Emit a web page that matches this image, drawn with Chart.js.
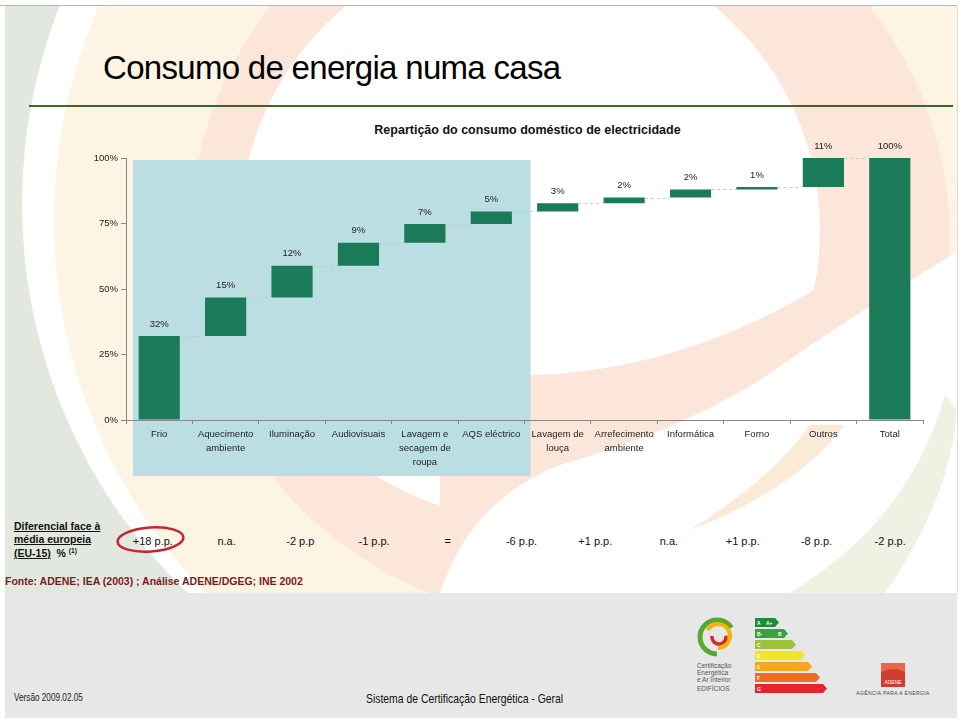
<!DOCTYPE html>
<html>
<head>
<meta charset="utf-8">
<title>Consumo de energia numa casa</title>
<script src="https://cdn.jsdelivr.net/npm/chart.js@4.4.0/dist/chart.umd.min.js"></script>
<style>
  body { margin:0; width:960px; height:721px; position:relative; overflow:hidden; background:#fff;
         font-family: Arial, "Liberation Sans", sans-serif; color:#000; }
  .abs { position:absolute; white-space:nowrap; }
  #bg { position:absolute; left:0; top:0; }
  #title { left:103px; top:51px; font-size:33px; line-height:33px; letter-spacing:-0.7px; }
  #rule { left:29px; top:105px; width:924px; height:2px; background:#3b6a1f; }
  #topline { left:0; top:5px; width:957px; height:1px; background:#b3b3b3; }
  #charttitle { left:300px; width:455px; top:123px; text-align:center; font-weight:bold; font-size:12.5px; line-height:14px; color:#111; }
  #chartbox { left:60px; top:140px; width:880px; height:350px; }
  #difflabel { left:14px; top:520px; font-weight:bold; font-size:10.5px; line-height:12.5px; color:#111; }
  #difflabel u { text-decoration-thickness:1px; }
  #difflabel sup { font-size:6.5px; vertical-align:4px; }
  #diffrow { left:116px; top:535px; width:811px; display:flex; font-size:11px; line-height:13px; color:#111; }
  #diffrow span { flex:1; text-align:center; }
  #fonte { left:5px; top:575px; font-weight:bold; font-size:10.5px; line-height:12px; color:#7b1c1c; }
  #versao { left:14px; top:692px; font-size:10px; line-height:12px; color:#222; transform:scaleX(0.82); transform-origin:left; }
  #sistema { left:366px; top:692px; font-size:13px; line-height:14px; color:#111; transform:scaleX(0.8); transform-origin:left; }
</style>
</head>
<body>

<svg id="bg" width="960" height="721">
  <defs>
    <clipPath id="slide"><rect x="5" y="6" width="952" height="587"/></clipPath>
    <clipPath id="disco"><circle cx="570" cy="240" r="380"/></clipPath>
  </defs>
  <g clip-path="url(#slide)">
    <rect x="5" y="6" width="952" height="587" fill="#e2e8df"/>
    <circle cx="562" cy="204" r="540" fill="#ffffff"/>
    <circle cx="587" cy="220" r="533" fill="#fdf4e3"/>
    <circle cx="570" cy="240" r="380" fill="#fbe6d9"/>
    <circle cx="530" cy="230" r="290" fill="#ffffff"/>
    <path d="M440,372 Q650,395 830,280 L960,280 L960,700 L440,700 Z" fill="#fbe6d9" clip-path="url(#disco)"/>
    <path d="M440,593 Q470,500 560,465 Q680,430 760,380 Q860,310 960,250 L960,593 Z" fill="#ffffff"/>
    <path d="M810,425 Q770,480 690,530 Q795,490 845,425 Z" fill="#fcead9"/>
    <path d="M945,395 Q910,520 790,593 L885,593 Q950,500 957,410 Z" fill="#eef2e3"/>
  </g>
  <rect x="957" y="6" width="1" height="587" fill="#dddddd"/>
  <rect x="5" y="593" width="952" height="125" fill="#e7e7e7"/>
  <ellipse cx="150.5" cy="539.5" rx="33" ry="12" fill="none" stroke="#c4262b" stroke-width="2.5" transform="rotate(-4 150.5 539.5)"/>

  <!-- certificação logo -->
  <circle cx="717" cy="637" r="17" fill="none" stroke="#5aa832" stroke-width="5" stroke-dasharray="70 37" transform="rotate(90 717 637)"/>
  <circle cx="718" cy="636" r="12" fill="none" stroke="#f5b400" stroke-width="4" stroke-dasharray="50 26" transform="rotate(-150 718 636)"/>
  <circle cx="719" cy="637" r="7" fill="none" stroke="#d42a2d" stroke-width="3.5" stroke-dasharray="24 20" transform="rotate(-10 719 637)"/>
  <text x="697" y="668" font-size="6.5" fill="#555">Certificação</text>
  <text x="697" y="675" font-size="6.5" fill="#555">Energética</text>
  <text x="697" y="682" font-size="6.5" fill="#555">e Ar Interior</text>
  <text x="697" y="691" font-size="6.5" fill="#555">EDIFÍCIOS</text>

  <!-- escala energética -->
  <polygon points="755,618 775,618 779,622.5 775,627 755,627" fill="#1e8a3c"/>
  <polygon points="755,629 784,629 788,633.5 784,638 755,638" fill="#3aa040"/>
  <polygon points="755,640 792,640 796,644.5 792,649 755,649" fill="#9dc23a"/>
  <polygon points="755,651 801,651 805,655.5 801,660 755,660" fill="#f2e528"/>
  <polygon points="755,662 808,662 812,666.5 808,671 755,671" fill="#f7a51e"/>
  <polygon points="755,673 816,673 820,677.5 816,682 755,682" fill="#ef6a24"/>
  <polygon points="755,684 823,684 827,688.5 823,693 755,693" fill="#e3262b"/>
  <g font-size="5" fill="#ffffff" font-weight="bold">
    <text x="757" y="624.5">A</text><text x="766" y="624.5">A+</text>
    <text x="757" y="635.5">B-</text><text x="778" y="635.5">B</text>
    <text x="757" y="646.5">C</text><text x="757" y="657.5">D</text>
    <text x="757" y="668.5">E</text><text x="757" y="679.5">F</text>
    <text x="757" y="690.5">G</text>
  </g>

  <!-- ADENE -->
  <rect x="881" y="663" width="24" height="24" fill="#d23c2e"/>
  <path d="M881,663 L905,663 L905,672 Q893,666 881,672 Z" fill="#e9664d"/>
  <text x="893" y="684" font-size="5" fill="#ffffff" text-anchor="middle">ADENE</text>
  <text x="893" y="695" font-size="5" fill="#444" text-anchor="middle" letter-spacing="0.4">AGÊNCIA PARA A ENERGIA</text>
</svg>

<div class="abs" id="topline"></div>
<div class="abs" id="title">Consumo de energia numa casa</div>
<div class="abs" id="rule"></div>
<div class="abs" id="charttitle">Repartição do consumo doméstico de electricidade</div>

<div class="abs" id="chartbox"><canvas id="myChart" width="880" height="350"></canvas></div>

<div class="abs" id="difflabel"><u>Diferencial face à</u><br><u>média europeia</u><br><u>(EU-15)</u>&nbsp; % <sup>(1)</sup></div>
<div class="abs" id="diffrow"></div>
<div class="abs" id="fonte">Fonte: ADENE; IEA (2003) ; Análise ADENE/DGEG; INE 2002</div>
<div class="abs" id="versao">Versão 2009.02.05</div>
<div class="abs" id="sistema">Sistema de Certificação Energética - Geral</div>

<script>
// categorias (eixo x)
var categorias = [
	['Frio'], ['Aquecimento', 'ambiente'], ['Iluminação'], ['Audiovisuais'],
	['Lavagem e', 'secagem de', 'roupa'], ['AQS eléctrico'], ['Lavagem de', 'louça'],
	['Arrefecimento', 'ambiente'], ['Informática'], ['Forno'], ['Outros'], ['Total']
];
var pesos = [32.1, 14.7, 12.1, 8.8, 7.1, 4.8, 3.1, 2.2, 3.1, 0.9, 11.1];
var total = 100;
// rótulos impressos sobre as barras
var rotulos = ['32%', '15%', '12%', '9%', '7%', '5%', '3%', '2%', '2%', '1%', '11%', '100%'];
// marcas do eixo y
var marcasY = [0, 25, 50, 75, 100];
// diferencial face à média europeia
var diferencial = ['+18 p.p.', 'n.a.', '-2 p.p', '-1 p.p.', '=', '-6 p.p.', '+1 p.p.', 'n.a.', '+1 p.p.', '-8 p.p.', '-2 p.p.'];

var row = document.getElementById('diffrow');
diferencial.forEach(function(t) {
	var s = document.createElement('span');
	s.textContent = t;
	row.appendChild(s);
});

// barras flutuantes da cascata
var barras = [];
var acum = 0;
for (var i = 0; i < pesos.length; i++) {
	barras.push([acum, acum + pesos[i]]);
	acum += pesos[i];
}
barras.push([0, total]);

Chart.defaults.font.family = 'Arial, "Liberation Sans", sans-serif';
Chart.defaults.color = '#222';

// painel azul por trás dos usos principais
var painel = {
	id: 'painel',
	beforeDraw: function(chart) {
		var ctx = chart.ctx, x = chart.scales.x, y = chart.scales.y;
		var meio = (x.getPixelForValue(1) - x.getPixelForValue(0)) / 2;
		var esq = x.getPixelForValue(0) - meio + 7;
		var dir = x.getPixelForValue(5) + meio + 6;
		var topo = y.getPixelForValue(100) + 2;
		var fundo = y.getPixelForValue(0) + 56;
		ctx.save();
		ctx.fillStyle = '#badee1';
		ctx.fillRect(esq, topo, dir - esq, fundo - topo);
		ctx.restore();
	}
};

// linhas tracejadas de ligação e rótulos
var cascata = {
	id: 'cascata',
	afterDatasetsDraw: function(chart) {
		var ctx = chart.ctx, y = chart.scales.y;
		var meta = chart.getDatasetMeta(0);
		ctx.save();
		ctx.strokeStyle = '#cfc6c2';
		ctx.lineWidth = 1;
		ctx.setLineDash([3, 3]);
		for (var i = 0; i < meta.data.length - 1; i++) {
			var a = meta.data[i], b = meta.data[i + 1];
			var py = Math.round(y.getPixelForValue(barras[i][1])) + 0.5;
			ctx.beginPath();
			ctx.moveTo(a.x + a.width / 2, py);
			ctx.lineTo(b.x - b.width / 2, py);
			ctx.stroke();
		}
		ctx.setLineDash([]);
		ctx.fillStyle = '#222';
		ctx.font = '9.5px Arial, "Liberation Sans", sans-serif';
		ctx.textAlign = 'center';
		ctx.textBaseline = 'middle';
		for (var j = 0; j < meta.data.length; j++) {
			var topo = y.getPixelForValue(barras[j][1]);
			ctx.fillText(rotulos[j], meta.data[j].x, topo - 12);
		}
		ctx.restore();
	}
};

var myChart = document.getElementById('myChart').getContext('2d');
var grafico = new Chart(myChart, {
	type: 'bar',
	data: {
		labels: categorias,
		datasets: [{
			label: 'Repartição do consumo doméstico de electricidade',
			data: barras,
			backgroundColor: '#1b7a58',
			borderWidth: 0,
			borderSkipped: false,
			barPercentage: 0.62,
			categoryPercentage: 1
		}]
	},
	options: {
		responsive: false,
		animation: false,
		devicePixelRatio: 1,
		layout: { padding: { top: 18, right: 17, left: 0, bottom: 0 } },
		plugins: {
			legend: { display: false },
			tooltip: { enabled: false }
		},
		scales: {
			x: {
				afterFit: function(s) { s.height = 70; },
				grid: { display: true, drawOnChartArea: false, drawTicks: true, tickLength: 4, color: '#888', offset: true },
				border: { display: true, color: '#888' },
				ticks: { maxRotation: 0, autoSkip: false, padding: 3, color: '#222',
					font: { size: 9.5, lineHeight: 1.47 } }
			},
			y: {
				min: 0, max: 100,
				afterFit: function(s) { s.width = 66; },
				afterBuildTicks: function(s) { s.ticks = marcasY.map(function(v) { return { value: v }; }); },
				grid: { display: true, drawOnChartArea: false, drawTicks: true, tickLength: 5, color: '#888' },
				border: { display: true, color: '#888' },
				ticks: { padding: 3, color: '#222', font: { size: 9.5 },
					callback: function(v) { return v + '%'; } }
			}
		}
	},
	plugins: [painel, cascata]
});
</script>
</body>
</html>
